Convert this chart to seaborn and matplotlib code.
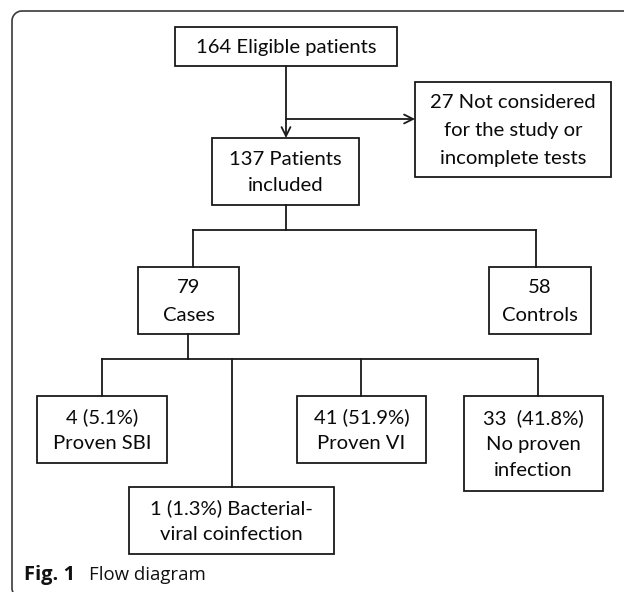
import matplotlib
matplotlib.use("Agg")
import matplotlib.pyplot as plt
from matplotlib.patches import Rectangle
import numpy as np
import seaborn as sns
import pandas as pd

# ---- data ----
eligible = 164
excluded = 27
included = 137
cases = 79
controls = 58
outcome_names = ["Proven SBI", "Bacterial-viral coinfection", "Proven VI", "No proven infection"]
outcome_counts = [4, 1, 41, 33]
outcome_pcts = [5.1, 1.3, 51.9, 41.8]

# ---- text of each node ----
labels = {
    "A": [f"{eligible} Eligible patients"],
    "X": [f"{excluded} Not considered", "for the study or", "incomplete tests"],
    "B": [f"{included} Patients", "included"],
    "C": [f"{cases}", "Cases"],
    "K": [f"{controls}", "Controls"],
    "O1": [f"{outcome_counts[0]} ({outcome_pcts[0]}%)", "Proven SBI"],
    "O2": [f"{outcome_counts[1]} ({outcome_pcts[1]}%) Bacterial-", "viral coinfection"],
    "O3": [f"{outcome_counts[2]} ({outcome_pcts[2]}%)", "Proven VI"],
    "O4": [f"{outcome_counts[3]}  ({outcome_pcts[3]}%)", "No proven", "infection"],
}

# ---- layout (pixel space, y downward) ----
boxes = {  # x0, y0, x1, y1, line spacing
    "A": (175, 27, 397, 66, 27),
    "X": (415, 82, 611, 177, 28),
    "B": (212, 138, 359, 205, 26),
    "C": (138, 267, 239, 334, 28),
    "K": (489, 267, 591, 334, 28),
    "O1": (37, 396, 167, 463, 26),
    "O2": (129, 487, 334, 554, 26),
    "O3": (297, 396, 426, 463, 26),
    "O4": (464, 396, 603, 491, 26.5),
}

sns.set_theme(style="white")
plt.rcParams["font.family"] = ["Lato", "DejaVu Sans"]

W, H = 624, 592
fig = plt.figure(figsize=(W / 100, H / 100), dpi=100)
ax = fig.add_axes([0, 0, 1, 1])
ax.set_xlim(0, W)
ax.set_ylim(H, 0)
ax.axis("off")

LC = "#1a1a1a"
LW = 1.3

# outer frame: rounded top-left and bottom-left corners, open to the right
r = 10
fx0, fy0, fy1 = 12, 11, 598
t1 = np.linspace(np.pi, 1.5 * np.pi, 20)
t2 = np.linspace(0.5 * np.pi, np.pi, 20)
fx = np.concatenate([[W + 20], fx0 + r + r * np.cos(t1[::-1]), fx0 + r + r * np.cos(t2[::-1]), [W + 20]])
fy = np.concatenate([[fy0], fy0 + r + r * np.sin(t1[::-1]), fy1 - r + r * np.sin(t2[::-1]), [fy1]])
ax.plot(fx, fy, color="#3a3a3a", lw=1.2)

for key, (x0, y0, x1, y1, ls) in boxes.items():
    ax.add_patch(Rectangle((x0, y0), x1 - x0, y1 - y0, fill=False, ec=LC, lw=LW))
    lines = labels[key]
    cx, cy = (x0 + x1) / 2, (y0 + y1) / 2
    n = len(lines)
    for i, t in enumerate(lines):
        ax.text(cx, cy + (i - (n - 1) / 2) * ls + 1, t, ha="center", va="center",
                fontsize=14.6, color="#0a0a0a")

# connectors as a tidy table of segments
segs = [
    ((193, 230), (536, 230)),
    ((286, 205), (286, 230)),
    ((193, 230), (193, 267)),
    ((536, 230), (536, 267)),
    ((188, 334), (188, 359)),
    ((102, 359), (538, 359)),
    ((102, 359), (102, 396)),
    ((232, 359), (232, 487)),
    ((361, 359), (361, 396)),
    ((538, 359), (538, 396)),
]
rows = []
for k, (p, q) in enumerate(segs):
    rows.append({"seg": k, "x": p[0], "y": p[1]})
    rows.append({"seg": k, "x": q[0], "y": q[1]})
df = pd.DataFrame(rows)
for k, g in df.groupby("seg"):
    ax.plot(g["x"], g["y"], color=LC, lw=LW, solid_capstyle="projecting")

# arrows
ap = dict(arrowstyle="->", lw=LW, color=LC, mutation_scale=16, shrinkA=0, shrinkB=0)
ax.annotate("", xy=(286, 138), xytext=(286, 66), arrowprops=ap)
ax.annotate("", xy=(415, 119), xytext=(286, 119), arrowprops=ap)

# caption
ax.text(24, 575, "Fig. 1", ha="left", va="center", fontsize=14.5, fontweight="bold",
        family=["Open Sans", "DejaVu Sans"], color="#111111")
ax.text(89, 575, "Flow diagram", ha="left", va="center", fontsize=13.4,
        family=["Open Sans", "DejaVu Sans"], color="#111111")

fig.savefig("out.png", dpi=100)
